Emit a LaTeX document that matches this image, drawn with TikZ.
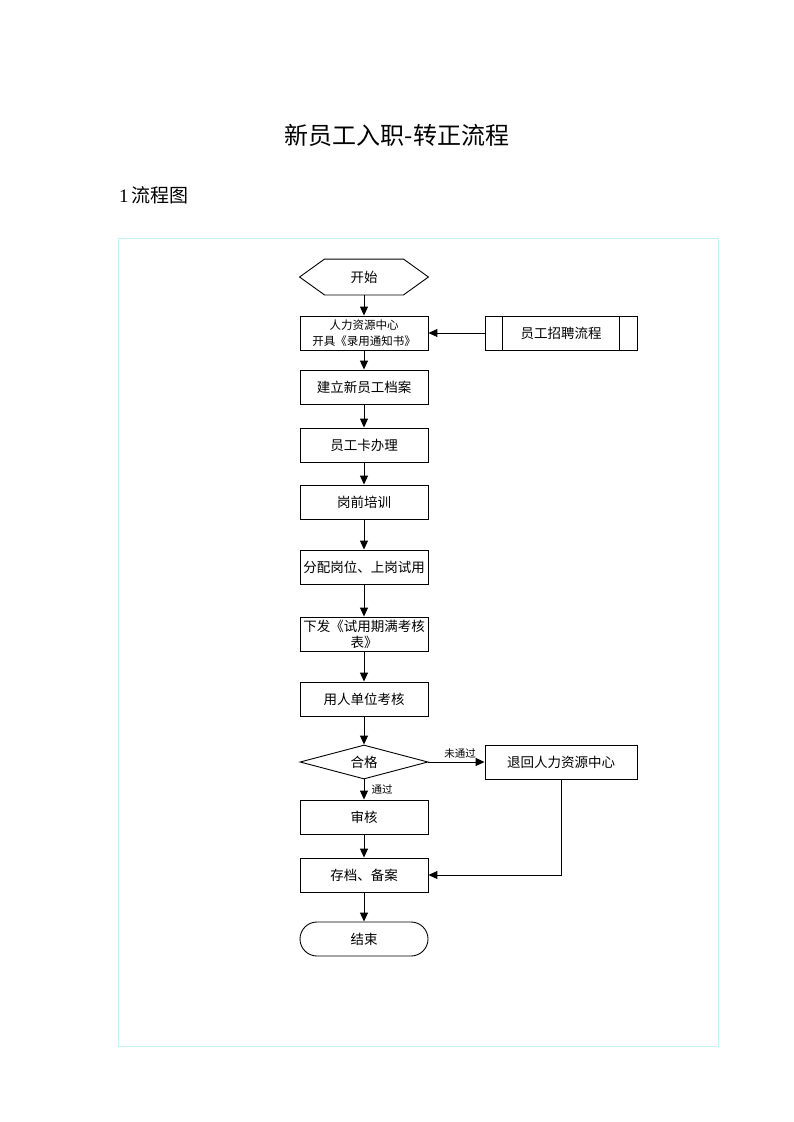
\documentclass[tikz,border=0pt]{standalone}
\usepackage{fontspec}
\setmainfont{Liberation Serif}
\newfontfamily\cjk{Noto Sans CJK SC}
\usetikzlibrary{arrows.meta,shapes.geometric}

\definecolor{framecyan}{RGB}{196,240,248}

\tikzset{
  box/.style={rectangle,draw,line width=0.9pt,minimum width=128pt,minimum height=34pt,
    inner sep=1pt,align=center,font=\cjk\fontsize{13.5}{16}\selectfont},
  link/.style={-{Triangle[length=9pt,width=8pt]},line width=1pt},
  tag/.style={inner sep=1pt,font=\cjk\fontsize{10.5}{12}\selectfont},
}

\begin{document}
\begin{tikzpicture} [x=1pt,y=-1pt]
  \useasboundingbox (0,0) rectangle (793,1122);

  % heading
  \node (title) at (397,135) {\cjk\fontsize{24}{27}\selectfont 新员工入职-转正流程};
  \node[anchor=west,inner sep=0pt] (sec) at (119,195) {\fontsize{19}{22}\selectfont 1\kern3pt{\cjk 流程图}};
  \draw [ color = framecyan, line width = 0.8pt ] (118,238) rectangle (718,1046);

  % start
  \node[box,draw=none,minimum height=35pt] (start) at (364,277) {开始};
  \draw [ line width = 0.9pt ] (start.west) -- ([xshift=25pt]start.north west) -- ([xshift=-25pt]start.north east)
        -- (start.east) -- ([xshift=-25pt]start.south east) -- ([xshift=25pt]start.south west) -- cycle;

  \node[box,font=\cjk\fontsize{11.5}{16}\selectfont] (n1) at (364,333) {人力资源中心\\开具《录用通知书》};
  \node[box,minimum width=152pt] (rec) at (561,333) {员工招聘流程};
  \draw [ line width = 0.9pt ] ([xshift=18pt]rec.north west) -- ([xshift=18pt]rec.south west);
  \draw [ line width = 0.9pt ] ([xshift=-18pt]rec.north east) -- ([xshift=-18pt]rec.south east);

  \node[box] (n2) at (364,387) {建立新员工档案};
  \node[box] (n3) at (364,445) {员工卡办理};
  \node[box] (n4) at (364,502) {岗前培训};
  \node[box] (n5) at (364,567) {分配岗位、上岗试用};
  \node[box] (n6) at (364,634) {下发《试用期满考核\\表》};
  \node[box] (n7) at (364,699) {用人单位考核};

  % check
  \node[box,shape=diamond,aspect=3.76,minimum height=34pt] (chk) at (364,762) {合格};
  \node[box,minimum width=152pt] (back) at (561,762) {退回人力资源中心};

  \node[box] (n8) at (364,817) {审核};
  \node[box] (n9) at (364,875) {存档、备案};
  \node[box,rounded corners=17pt] (stop) at (364,939) {结束};

  % flow
  \draw [link] (start) -- (n1);
  \draw [link] (rec) -- (n1);
  \draw [link] (n1) -- (n2);
  \draw [link] (n2) -- (n3);
  \draw [link] (n3) -- (n4);
  \draw [link] (n4) -- (n5);
  \draw [link] (n5) -- (n6);
  \draw [link] (n6) -- (n7);
  \draw [link] (n7) -- (chk);
  \draw [link] (chk) -- (back);
  \draw [link] (chk) -- (n8);
  \draw [link] (n8) -- (n9);
  \draw [link] (back.south) |- (n9.east);
  \draw [link] (n9) -- (stop);

  \node[tag] (fail) at (460,754) {未通过};
  \node[tag] (pass) at (382,789) {通过};
\end{tikzpicture}
\end{document}
